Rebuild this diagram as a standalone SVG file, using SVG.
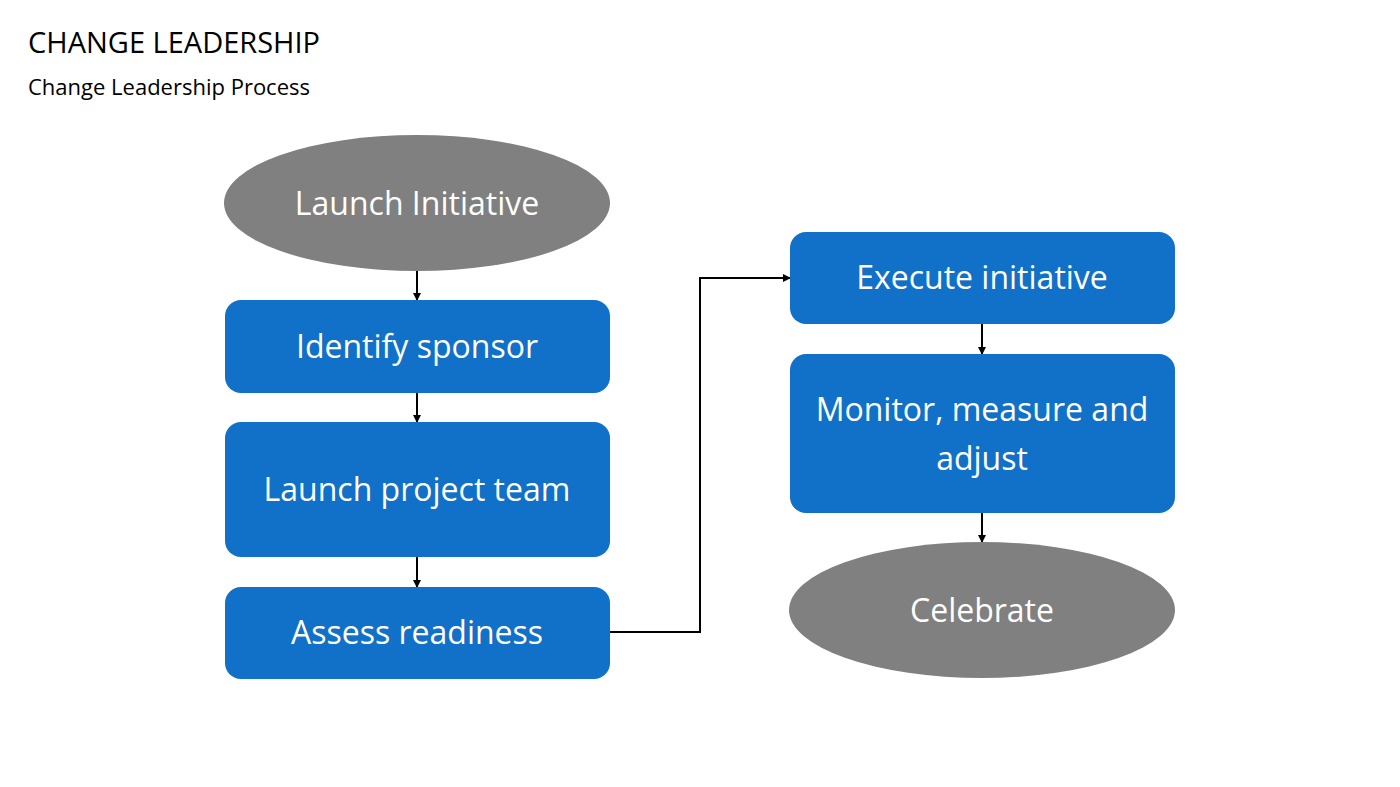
<svg xmlns="http://www.w3.org/2000/svg" width="1400" height="787" viewBox="0 0 1400 787">
<defs>
<marker id="ah" markerWidth="8" markerHeight="8" refX="7" refY="4" orient="auto" markerUnits="userSpaceOnUse"><path d="M0,0 L8,4 L0,8 z" fill="#000"/></marker>
<style>
.b{fill:#1170C7}
.g{fill:#808080}
.t{font-family:"Open Sans","Liberation Sans",sans-serif;font-size:32px;fill:#fff;text-anchor:middle}
.c{stroke:#000;stroke-width:2;fill:none;marker-end:url(#ah)}
</style>
</defs>
<rect width="1400" height="787" fill="#fff"/>
<text x="28" y="53" font-family="Open Sans, Liberation Sans, sans-serif" font-size="29" fill="#000">CHANGE LEADERSHIP</text>
<text x="28" y="95" font-family="Open Sans, Liberation Sans, sans-serif" font-size="22" fill="#000">Change Leadership Process</text>
<g id="connectors">
<path class="c" d="M417,271 V300"/>
<path class="c" d="M417,393 V422"/>
<path class="c" d="M417,557 V587"/>
<path class="c" d="M610,632 H700 V278 H790"/>
<path class="c" d="M982,324 V354"/>
<path class="c" d="M982,513 V542"/>
</g>
<g id="n1"><ellipse class="g" cx="417" cy="203" rx="193" ry="68"/><text class="t" x="417" y="215">Launch Initiative</text></g>
<g id="n2"><rect class="b" x="225" y="300" width="385" height="93" rx="16"/><text class="t" x="417" y="358">Identify sponsor</text></g>
<g id="n3"><rect class="b" x="225" y="422" width="385" height="135" rx="16"/><text class="t" x="417" y="501">Launch project team</text></g>
<g id="n4"><rect class="b" x="225" y="587" width="385" height="92" rx="16"/><text class="t" x="417" y="644">Assess readiness</text></g>
<g id="n5"><rect class="b" x="790" y="232" width="385" height="92" rx="16"/><text class="t" x="982" y="289">Execute initiative</text></g>
<g id="n6"><rect class="b" x="790" y="354" width="385" height="159" rx="16"/><text class="t" x="982" y="421">Monitor, measure and</text><text class="t" x="982" y="470">adjust</text></g>
<g id="n7"><ellipse class="g" cx="982" cy="610" rx="193" ry="68"/><text class="t" x="982" y="622">Celebrate</text></g>
</svg>
